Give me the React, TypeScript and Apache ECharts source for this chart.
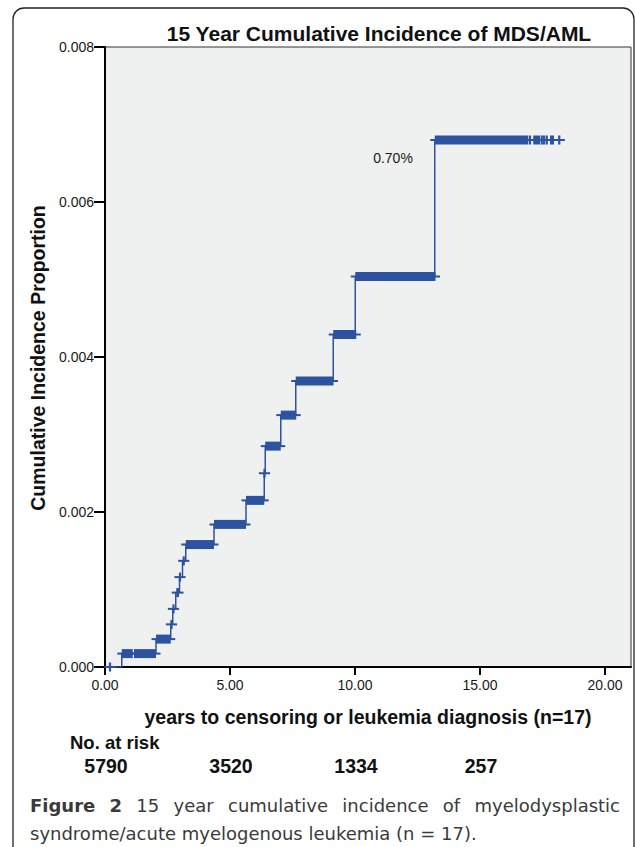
import React, { useEffect, useRef } from "react";
import * as echarts from "echarts";

const BLUE = "#2c52a0";
const FONT = "'Liberation Sans', Arial, sans-serif";
const CAP_FONT = "'DejaVu Sans', 'Noto Sans', sans-serif";

// Step points of the cumulative incidence curve (years, proportion)
const eventTimes = [0, 0.67, 2.04, 2.63, 2.71, 2.83, 2.98, 3.1, 3.23, 4.36, 5.64, 6.37, 6.41, 7.03, 7.63, 9.13, 10.01, 13.19, 18.17];
const cumInc = [0, 0.000173, 0.00036, 0.00055, 0.00075, 0.00096, 0.00116, 0.00137, 0.00158, 0.00184, 0.00215, 0.0025, 0.00285, 0.00325, 0.00369, 0.00429, 0.00504, 0.0068, 0.0068];

// Censoring marks: runs of censored times [start, end] at a level
const censorStart = [0.2, 0.67, 1.16, 2.04, 2.66, 2.74, 2.85, 3.0, 3.15, 3.23, 4.36, 5.64, 6.38, 6.41, 7.03, 7.63, 9.13, 10.01, 13.19, 17.0, 17.13, 17.47, 17.56, 17.67, 17.8, 18.17];
const censorEnd = [0.2, 1.11, 2.04, 2.63, 2.69, 2.79, 2.96, 3.08, 3.2, 4.36, 5.64, 6.37, 6.38, 7.03, 7.65, 9.14, 10.05, 13.22, 16.93, 17.0, 17.4, 17.47, 17.56, 17.67, 17.96, 18.17];
const censorLevel = [0, 0.000173, 0.000173, 0.00036, 0.00055, 0.00075, 0.00096, 0.00116, 0.00137, 0.00158, 0.00184, 0.00215, 0.0025, 0.00285, 0.00325, 0.00369, 0.00429, 0.00504, 0.0068, 0.0068, 0.0068, 0.0068, 0.0068, 0.0068, 0.0068, 0.0068];

// Axis ticks
const xTicks = [0, 5, 10, 15, 20];
const yTicks = [0, 0.002, 0.004, 0.006, 0.008];

// Number at risk
const riskTimes = [0, 5, 10, 15];
const riskCounts = [5790, 3520, 1334, 257];

// Caption
const captionBoldWords = ["Figure", "2"];
const captionLine1Words = ["15", "year", "cumulative", "incidence", "of", "myelodysplastic"];
const captionLine2 = "syndrome/acute myelogenous leukemia (n = 17).";

const CAP_SIZE = 18;
const CAP_COLOR = "#3a3a3a";

function measure(text: string, fontWeight: string) {
  const t = new (echarts.graphic as any).Text({
    style: { text, fontSize: CAP_SIZE, fontFamily: CAP_FONT, fontWeight },
  });
  return t.getBoundingRect().width;
}

export default function App() {
  const ref = useRef<HTMLDivElement>(null);
  useEffect(() => {
    if (!ref.current) return;
    const chart = echarts.init(ref.current, null, { renderer: "svg" });
    const curve = eventTimes.map((t, i) => [t, cumInc[i]]);
    const censor = censorStart.map((s, i) => [s, censorEnd[i], censorLevel[i]]);
    const risk = riskTimes.map((t, i) => [t, riskCounts[i]]);

    // justified first caption line
    const lineWidth = 590;
    let total = 0;
    captionBoldWords.forEach((w) => (total += measure(w, "bold")));
    captionLine1Words.forEach((w) => (total += measure(w, "normal")));
    const nGaps = captionBoldWords.length + captionLine1Words.length - 1;
    const gap = Math.max(4, (lineWidth - total) / nGaps);
    const tokens: string[] = [];
    captionBoldWords.forEach((w) => tokens.push(`{b|${w}}`));
    captionLine1Words.forEach((w) => tokens.push(`{r|${w}}`));
    const line1 = tokens.join("{g| }");

    chart.setOption({
      animation: false,
      backgroundColor: "#ffffff",
      textStyle: { fontFamily: FONT },
      grid: {
        left: 105,
        top: 47,
        width: 526,
        height: 620,
        show: true,
        backgroundColor: "#eff0f0",
        borderColor: "#333333",
        borderWidth: 1,
      },
      xAxis: {
        type: "value",
        min: 0,
        max: 21.04,
        interval: 5,
        axisLine: { show: true, onZero: false, lineStyle: { color: "#000", width: 2 } },
        axisTick: { show: true, length: 8, customValues: xTicks, lineStyle: { color: "#000", width: 2 } },
        axisLabel: {
          customValues: xTicks,
          formatter: (v: number) => v.toFixed(2),
          fontSize: 14,
          color: "#1a1a1a",
          margin: 11,
          fontFamily: FONT,
        },
        splitLine: { show: false },
      },
      yAxis: {
        type: "value",
        min: 0,
        max: 0.008,
        interval: 0.002,
        axisLine: { show: true, onZero: false, lineStyle: { color: "#000", width: 2 } },
        axisTick: { show: true, length: 11, customValues: yTicks, lineStyle: { color: "#000", width: 2 } },
        axisLabel: {
          customValues: yTicks,
          formatter: (v: number) => v.toFixed(3),
          fontSize: 14,
          color: "#1a1a1a",
          margin: 11,
          fontFamily: FONT,
        },
        splitLine: { show: false },
      },
      series: [
        {
          type: "line",
          step: "end",
          data: curve,
          showSymbol: false,
          symbol: "none",
          lineStyle: { color: BLUE, width: 1.5 },
          z: 2,
        },
        {
          type: "custom",
          data: censor,
          z: 3,
          renderItem: (params: any, api: any) => {
            const a = api.value(0);
            const b = api.value(1);
            const v = api.value(2);
            const p1 = api.coord([a, v]);
            const p2 = api.coord([b, v]);
            let w = p2[0] - p1[0];
            let x0 = p1[0];
            if (w < 2.2) {
              x0 = p1[0] - 1.1;
              w = 2.2;
            }
            return {
              type: "group",
              children: [
                {
                  type: "line",
                  shape: { x1: x0 - 4.5, y1: p1[1], x2: x0 + w + 4.5, y2: p1[1] },
                  style: { stroke: BLUE, lineWidth: 2 },
                },
                {
                  type: "rect",
                  shape: { x: x0, y: p1[1] - 4.5, width: w, height: 9 },
                  style: { fill: BLUE },
                },
              ],
            };
          },
        },
        {
          type: "custom",
          data: risk,
          clip: false,
          renderItem: (params: any, api: any) => {
            const p = api.coord([api.value(0), 0]);
            return {
              type: "text",
              x: p[0] + 1,
              y: p[1] + 99,
              style: {
                text: String(api.value(1)),
                fontSize: 19.5,
                fontWeight: "bold",
                fontFamily: FONT,
                fill: "#111",
                align: "center",
                verticalAlign: "middle",
              },
            };
          },
        },
      ],
      graphic: [
        {
          type: "rect",
          shape: { x: 13, y: 8, width: 621, height: 900, r: 11 },
          style: { fill: "none", stroke: "#222", lineWidth: 1.3 },
          silent: true,
        },
        {
          type: "text",
          x: 379,
          y: 33,
          style: {
            text: "15 Year Cumulative Incidence of MDS/AML",
            fontSize: 21,
            fontWeight: "bold",
            fontFamily: FONT,
            fill: "#111",
            align: "center",
            verticalAlign: "middle",
          },
        },
        {
          type: "text",
          x: 393,
          y: 158,
          style: {
            text: "0.70%",
            fontSize: 14,
            fontFamily: FONT,
            fill: "#1a1a1a",
            align: "center",
            verticalAlign: "middle",
          },
        },
        {
          type: "text",
          x: 38,
          y: 358,
          rotation: Math.PI / 2,
          style: {
            text: "Cumulative Incidence Proportion",
            fontSize: 19.5,
            fontWeight: "bold",
            fontFamily: FONT,
            fill: "#111",
            align: "center",
            verticalAlign: "middle",
          },
        },
        {
          type: "text",
          x: 368,
          y: 717,
          style: {
            text: "years to censoring or leukemia diagnosis (n=17)",
            fontSize: 19.5,
            fontWeight: "bold",
            fontFamily: FONT,
            fill: "#111",
            align: "center",
            verticalAlign: "middle",
          },
        },
        {
          type: "text",
          x: 70,
          y: 742,
          style: {
            text: "No. at risk",
            fontSize: 18.5,
            fontWeight: "bold",
            fontFamily: FONT,
            fill: "#111",
            align: "left",
            verticalAlign: "middle",
          },
        },
        {
          type: "text",
          x: 30,
          y: 805,
          style: {
            text: line1,
            fontSize: CAP_SIZE,
            fontFamily: CAP_FONT,
            fill: CAP_COLOR,
            align: "left",
            verticalAlign: "middle",
            rich: {
              b: { fontSize: CAP_SIZE, fontWeight: "bold", fontFamily: CAP_FONT, fill: CAP_COLOR },
              r: { fontSize: CAP_SIZE, fontWeight: "normal", fontFamily: CAP_FONT, fill: CAP_COLOR },
              g: { fontSize: CAP_SIZE, fontFamily: CAP_FONT, fill: CAP_COLOR, width: gap },
            },
          },
        },
        {
          type: "text",
          x: 30,
          y: 833,
          style: {
            text: captionLine2,
            fontSize: CAP_SIZE,
            fontFamily: CAP_FONT,
            fill: CAP_COLOR,
            align: "left",
            verticalAlign: "middle",
          },
        },
      ],
    });
    return () => chart.dispose();
  }, []);
  return (
    <div
      ref={ref}
      style={{ position: "fixed", left: 0, top: 0, width: 635, height: 847 }}
    />
  );
}
